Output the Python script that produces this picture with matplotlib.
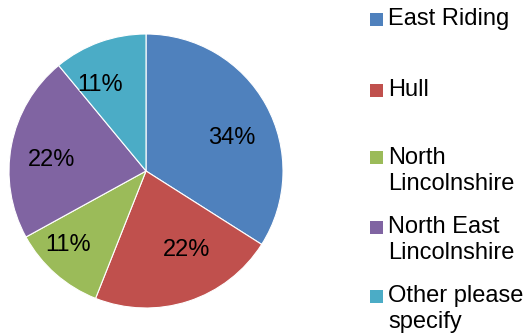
import matplotlib
matplotlib.use("Agg")
import matplotlib.pyplot as plt
from matplotlib.patches import Rectangle

plt.rcParams['font.family'] = ['Liberation Sans', 'DejaVu Sans']

categories = ["East Riding", "Hull", "North\nLincolnshire", "North East\nLincolnshire", "Other please\nspecify"]
shares = [34, 22, 11, 22, 11]
colors = ["#4F81BD", "#C0504D", "#9BBB59", "#8064A2", "#4BACC6"]

W, H = 528, 336
fig = plt.figure(figsize=(W / 100, H / 100), dpi=100)

# pie centred at (146, 171) px with radius 137 px
cx, cy, r = 146, 171, 137
ax = fig.add_axes([(cx - r) / W, 1 - (cy + r) / H, 2 * r / W, 2 * r / H])
wedges, texts, autotexts = ax.pie(
    shares, colors=colors, startangle=90, counterclock=False,
    autopct=lambda p: f"{p:.0f}%", pctdistance=0.68,
    wedgeprops=dict(edgecolor="white", linewidth=0.8),
    textprops=dict(fontsize=17, color="black"),
)
ax.set_aspect("equal")
ax.set_xlim(-1, 1)
ax.set_ylim(-1, 1)

# percentage label placement inside each slice (unit-circle coordinates)
label_pos = [(0.628, 0.241), (0.299, -0.577), (-0.569, -0.540), (-0.686, 0.080), (-0.336, 0.628)]
for t, p in zip(autotexts, label_pos):
    t.set_position(p)

# legend drawn entry by entry
entry_y = [19.5, 90, 158, 227, 296]
line_gap = 26
sq = 13
for label, color, y in zip(categories, colors, entry_y):
    fig.patches.append(Rectangle((370 / W, 1 - (y + sq / 2) / H), sq / W, sq / H,
                                 facecolor=color, edgecolor="none",
                                 transform=fig.transFigure, figure=fig))
    for i, line in enumerate(label.split("\n")):
        fig.text(388 / W, 1 - (y + i * line_gap) / H, line, fontsize=17,
                 va="center", ha="left", color="black")

fig.savefig("out.png", dpi=100)
